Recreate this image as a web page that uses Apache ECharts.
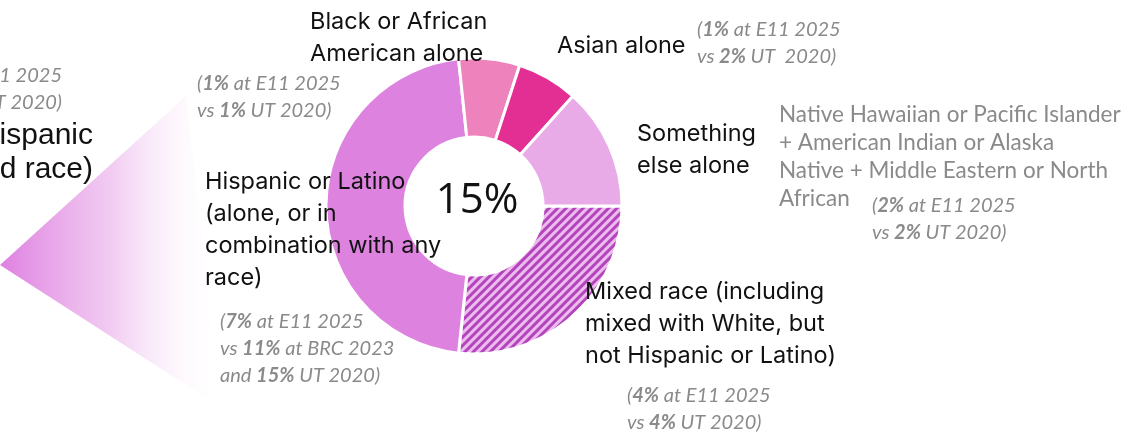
<!DOCTYPE html>
<html>
<head>
<meta charset="utf-8">
<script src="https://cdn.jsdelivr.net/npm/echarts@6/dist/echarts.min.js"></script>
<style>
html,body{margin:0;padding:0;background:#fff;}
#chart{width:1131px;height:442px;}
</style>
</head>
<body>
<div id="chart"></div>
<script>
// ---- data (clockwise from 3 o'clock) ----
const categories = [
  'Mixed race (including\nmixed with White, but\nnot Hispanic or Latino)',
  'Hispanic or Latino\n(alone, or in\ncombination with any\nrace)',
  'Black or African\nAmerican alone',
  'Asian alone',
  'Something\nelse alone'
];
const valuesE11 = [4, 7, 1, 1, 2];
const valuesUT2020 = [4, 15, 1, 2, 2];
const hispanicBRC2023 = 11;
const somethingElseDetail = 'Native Hawaiian or Pacific Islander\n+ American Indian or Alaska\nNative + Middle Eastern or North\nAfrican';
const leftCutNote = ['(2% at E11 2025', 'vs 3% UT 2020)'];
const leftCutLabel = ['Hispanic', '(any mixed race)'];

// ---- styles / layout ----
const colors = ['#edbcee', '#de82e0', '#ee82bd', '#e32f94', '#e8abe8'];
const labelPos = [[585, 276], [205, 166], [310, 6], [557, 30], [637, 118]];
const total = valuesE11.reduce((a, b) => a + b, 0);

const chart = echarts.init(document.getElementById('chart'), null, {renderer: 'canvas'});

const gray = '#8a8a8a';
const noteFont = 'Lato';
const NS = 20;
function noteStyle(x, y, text) {
  return {
    type: 'text', x: x, y: y,
    style: {
      text: text,
      fill: gray,
      font: 'italic ' + NS + 'px ' + noteFont,
      lineHeight: 27,
      rich: {
        b: {fontWeight: 'bold', fontStyle: 'italic', fontFamily: noteFont, fontSize: NS, fill: gray, lineHeight: 27},
        n: {fontStyle: 'italic', fontFamily: noteFont, fontSize: NS, fill: gray, lineHeight: 27}
      }
    }
  };
}
function pct(v){ return '{b|' + v + '%}'; }

const notes = [
  noteStyle(627, 382, '{n|(}' + pct(valuesE11[0]) + '{n| at E11 2025}\n{n|vs }' + pct(valuesUT2020[0]) + '{n| UT 2020)}'),
  noteStyle(220, 308, '{n|(}' + pct(valuesE11[1]) + '{n| at E11 2025}\n{n|vs }' + pct(hispanicBRC2023) + '{n| at BRC 2023}\n{n|and }' + pct(valuesUT2020[1]) + '{n| UT 2020)}'),
  noteStyle(197, 70, '{n|(}' + pct(valuesE11[2]) + '{n| at E11 2025}\n{n|vs }' + pct(valuesUT2020[2]) + '{n| UT 2020)}'),
  noteStyle(697, 16, '{n|(}' + pct(valuesE11[3]) + '{n| at E11 2025}\n{n|vs }' + pct(valuesUT2020[3]) + '{n| UT  2020)}'),
  noteStyle(872, 192, '{n|(}' + pct(valuesE11[4]) + '{n| at E11 2025}\n{n|vs }' + pct(valuesUT2020[4]) + '{n| UT 2020)}')
];

const option = {
  backgroundColor: '#ffffff',
  animation: false,
  graphic: [
    {
      type: 'polygon',
      z: -10,
      shape: {points: [[0, 265], [186, 96], [222, 408]]},
      style: {
        fill: new echarts.graphic.LinearGradient(0, 0, 1, 0, [
          {offset: 0, color: 'rgba(222,128,224,1)'},
          {offset: 0.5, color: 'rgba(238,190,238,0.8)'},
          {offset: 1, color: 'rgba(255,255,255,0)'}
        ])
      }
    },
    {
      type: 'text', x: 62, y: 62,
      style: {text: leftCutNote.join('\n'), fill: gray, font: 'italic ' + NS + 'px ' + noteFont, lineHeight: 27, align: 'right'}
    },
    {
      type: 'text', x: 93, y: 119,
      style: {text: leftCutLabel.join('\n'), fill: '#111', font: '30px "Liberation Sans"', lineHeight: 34, align: 'right'}
    },
    {
      type: 'text', x: 779, y: 101,
      style: {text: somethingElseDetail, fill: gray, font: '22.5px ' + noteFont, lineHeight: 28}
    },
    ...notes,
    {
      type: 'text', x: 477, y: 201, z: 100,
      style: {text: total + '%', fill: '#111', font: '42px "Open Sans"', align: 'center', verticalAlign: 'middle'}
    }
  ],
  series: [{
    type: 'pie',
    center: [474, 206],
    radius: [69, 148],
    startAngle: 0,
    clockwise: true,
    avoidLabelOverlap: false,
    silent: true,
    itemStyle: {borderColor: '#fff', borderWidth: 3},
    label: {
      show: true,
      formatter: '{b}',
      color: '#111',
      fontFamily: 'Inter',
      fontSize: 23.5,
      lineHeight: 32
    },
    labelLine: {show: false},
    labelLayout: function (params) {
      const p = labelPos[params.dataIndex];
      return {x: p[0], y: p[1], align: 'left', verticalAlign: 'top'};
    },
    data: categories.map((c, i) => ({
      name: c,
      value: valuesE11[i],
      itemStyle: i === 0 ? {
        color: colors[i],
        decal: {
          symbol: 'rect', symbolSize: 1,
          dashArrayX: [1, 0], dashArrayY: [3, 3],
          rotation: -Math.PI / 4,
          color: '#b444bc'
        }
      } : {color: colors[i]}
    }))
  }]
};
chart.setOption(option);
</script>
</body>
</html>
